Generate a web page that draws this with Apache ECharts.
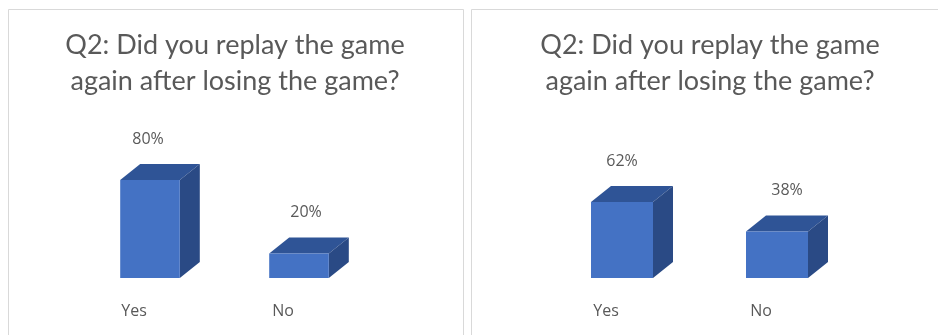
<!DOCTYPE html>
<html>
<head>
<meta charset="utf-8">
<style>html,body{margin:0;padding:0;background:#fff}#chart{width:938px;height:335px}</style>
<script src="https://cdn.jsdelivr.net/npm/echarts@6/dist/echarts.min.js"></script>
</head>
<body>
<div id="chart"></div>
<script>
// Survey answers, one small set per panel
const categories = ['Yes', 'No'];
const panelOneValues = [80, 20];
const panelTwoValues = [62, 38];
const titleText = 'Q2: Did you replay the game\nagain after losing the game?';

// Horizontal nudge of each percentage label, per panel
const panelOneLabelShift = [-2, 7];
const panelTwoLabelShift = [0, 10];

const FRONT = '#4472c4', TOP = '#2f5496', SIDE = '#2a4a85';
const DEPTH_X = 20, DEPTH_Y = 16, LABEL_GAP = 41;

// Draws a box with a front, top and side face from the value scale
function boxRenderer(labelShift) {
  return function (params, api) {
    const idx = api.value(0);
    const value = api.value(1);
    const top = api.coord([idx, value]);
    const base = api.coord([idx, 0]);
    const width = api.size([1, 0])[0] * 0.4;
    const l = top[0] - width / 2, r = top[0] + width / 2;
    const t = top[1], b = base[1];
    return {
      type: 'group',
      children: [
        { type: 'polygon', shape: { points: [[l, t], [r, t], [r + DEPTH_X, t - DEPTH_Y], [l + DEPTH_X, t - DEPTH_Y]] }, style: { fill: TOP } },
        { type: 'polygon', shape: { points: [[r, t], [r + DEPTH_X, t - DEPTH_Y], [r + DEPTH_X, b - DEPTH_Y], [r, b]] }, style: { fill: SIDE } },
        { type: 'rect', shape: { x: l, y: t, width: width, height: b - t }, style: { fill: FRONT } },
        { type: 'text', style: { x: top[0] + labelShift[idx], y: t - LABEL_GAP, text: value + '%', align: 'center', verticalAlign: 'middle', fill: '#595959', font: '16px "Open Sans"' } }
      ]
    };
  };
}

function makeAxes(gridIndex) {
  return {
    x: {
      type: 'category', gridIndex: gridIndex, data: categories,
      axisLine: { show: false }, axisTick: { show: false },
      axisLabel: { color: '#595959', fontFamily: 'Open Sans', fontSize: 16, margin: 25, padding: [0, 32, 0, 0] }
    },
    y: { type: 'value', gridIndex: gridIndex, min: 0, max: 100, show: false, splitLine: { show: false } }
  };
}

const a0 = makeAxes(0), a1 = makeAxes(1);
const titleStyle = { color: '#595959', fontFamily: 'Lato', fontSize: 27, fontWeight: 'normal', lineHeight: 36 };

const chart = echarts.init(document.getElementById('chart'), null, { renderer: 'canvas' });
chart.setOption({
  backgroundColor: '#ffffff',
  animation: false,
  title: [
    { text: titleText, left: 230, top: 22, textAlign: 'center', textStyle: titleStyle },
    { text: titleText, left: 705, top: 22, textAlign: 'center', textStyle: titleStyle }
  ],
  grid: [
    { left: 75.5, width: 298, top: 155.5, height: 122.5 },
    { left: 544.5, width: 310, top: 155.5, height: 122.5 }
  ],
  xAxis: [a0.x, a1.x],
  yAxis: [a0.y, a1.y],
  graphic: [
    { type: 'rect', silent: true, shape: { x: 8.5, y: 9.5, width: 455, height: 340 }, style: { fill: 'none', stroke: '#d9d9d9', lineWidth: 1 } },
    { type: 'rect', silent: true, shape: { x: 471.5, y: 9.5, width: 480, height: 340 }, style: { fill: 'none', stroke: '#d9d9d9', lineWidth: 1 } }
  ],
  series: [
    { type: 'custom', xAxisIndex: 0, yAxisIndex: 0, clip: false, encode: { x: 0, y: 1 },
      data: panelOneValues.map((v, i) => [i, v]), renderItem: boxRenderer(panelOneLabelShift) },
    { type: 'custom', xAxisIndex: 1, yAxisIndex: 1, clip: false, encode: { x: 0, y: 1 },
      data: panelTwoValues.map((v, i) => [i, v]), renderItem: boxRenderer(panelTwoLabelShift) }
  ]
});
</script>
</body>
</html>
